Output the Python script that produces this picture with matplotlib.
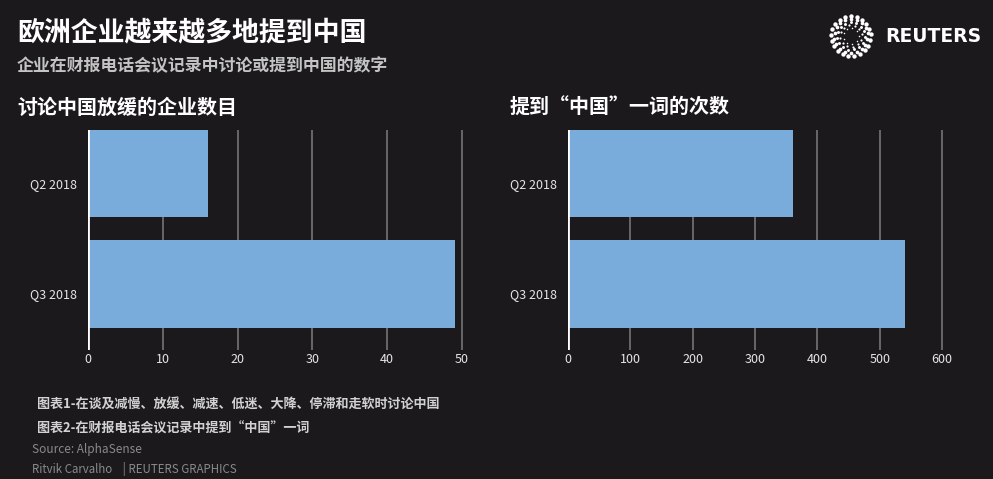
import numpy as np
import matplotlib
matplotlib.use("Agg")
import matplotlib.pyplot as plt
import matplotlib.transforms as mtransforms

plt.rcParams['font.family'] = ['Noto Sans CJK SC', 'DejaVu Sans']

categories = ["Q2 2018", "Q3 2018"]
companies_slowdown = [16, 49]
china_mentions = [361, 541]
left_ticks = [0, 10, 20, 30, 40, 50]
right_ticks = [0, 100, 200, 300, 400, 500, 600]

BG = "#1b191c"
BAR = "#79acdb"
GRID = "#6e6e6e"

W, H = 993, 479
fig = plt.figure(figsize=(W / 100, H / 100), dpi=100, facecolor=BG)


def fx(px):
    return px / W


def fy(py):
    return 1 - py / H


def panel(x0, x1px_per_unit, xmax, values, ticks):
    top, bottom = 130, 350
    width_px = xmax * x1px_per_unit
    ax = fig.add_axes([fx(x0), fy(bottom), width_px / W, (bottom - top) / H])
    ax.set_facecolor(BG)
    y = np.arange(len(categories))
    ax.barh(y, values, height=0.79, color=BAR, zorder=2)
    ax.set_xlim(0, xmax)
    ax.set_ylim(1.597, -0.394)
    for t in ticks:
        if t == 0:
            ax.axvline(t, color="white", lw=2, zorder=3)
        else:
            ax.axvline(t, color=GRID, lw=1.3, zorder=1)
    ax.set_yticks(y)
    ax.set_yticklabels(categories, color="#e6e6e6", fontsize=9)
    ax.set_xticks(ticks)
    ax.set_xticklabels([str(t) for t in ticks], color="#e6e6e6", fontsize=9)
    ax.tick_params(axis="both", length=0)
    ax.tick_params(axis="x", pad=2)
    ax.tick_params(axis="y", pad=8)
    off = mtransforms.ScaledTranslation(0, -9 / 100, fig.dpi_scale_trans)
    for lab in ax.get_yticklabels():
        lab.set_transform(lab.get_transform() + off)
    for s in ax.spines.values():
        s.set_visible(False)
    return ax


panel(88, 7.48, 52, companies_slowdown, left_ticks)
panel(568, 0.6233, 650, china_mentions, right_ticks)

fig.text(fx(17), fy(32), "欧洲企业越来越多地提到中国", color="white", fontsize=19.4,
         fontweight="bold", va="center", ha="left")
fig.text(fx(17), fy(66), "企业在财报电话会议记录中讨论或提到中国的数字", color="#c4c4c4",
         fontsize=12.2, fontweight="bold", va="center", ha="left")
fig.text(fx(17), fy(107), "讨论中国放缓的企业数目", color="white", fontsize=14.4,
         fontweight="bold", va="center", ha="left")
fig.text(fx(510), fy(107), "提到“中国”一词的次数", color="white", fontsize=14.4,
         fontweight="bold", va="center", ha="left")

fig.text(fx(37), fy(405), "图表1-在谈及减慢、放缓、减速、低迷、大降、停滞和走软时讨论中国",
         color="#d2d2d2", fontsize=9.4, fontweight="bold", va="center", ha="left")
fig.text(fx(37), fy(429), "图表2-在财报电话会议记录中提到“中国”一词",
         color="#d2d2d2", fontsize=9.4, fontweight="bold", va="center", ha="left")
fig.text(fx(32), fy(450), "Source: AlphaSense", color="#8a8a8a", fontsize=8.5,
         va="center", ha="left")
fig.text(fx(32), fy(469), "Ritvik Carvalho    | REUTERS GRAPHICS", color="#8a8a8a",
         fontsize=8.3, va="center", ha="left")

# Reuters logo
lax = fig.add_axes([fx(828), fy(59), 46 / W, 46 / H])
lax.set_xlim(-1.1, 1.1)
lax.set_ylim(-1.1, 1.1)
lax.axis("off")
rings = [(0.38, 9, 1.2), (0.52, 12, 2.5), (0.66, 15, 4.5), (0.80, 18, 7), (0.95, 21, 10)]
for k, (r, n, s) in enumerate(rings):
    th = np.linspace(0, 2 * np.pi, n, endpoint=False) + k * 0.17
    lax.scatter(r * np.cos(th), r * np.sin(th), s=s, color="white", lw=0)
fig.text(fx(885), fy(37), "REUTERS", color="white", fontsize=13.5, fontweight="bold",
         va="center", ha="left", family=["DejaVu Sans"])

fig.savefig("out.png", dpi=100, facecolor=BG)
